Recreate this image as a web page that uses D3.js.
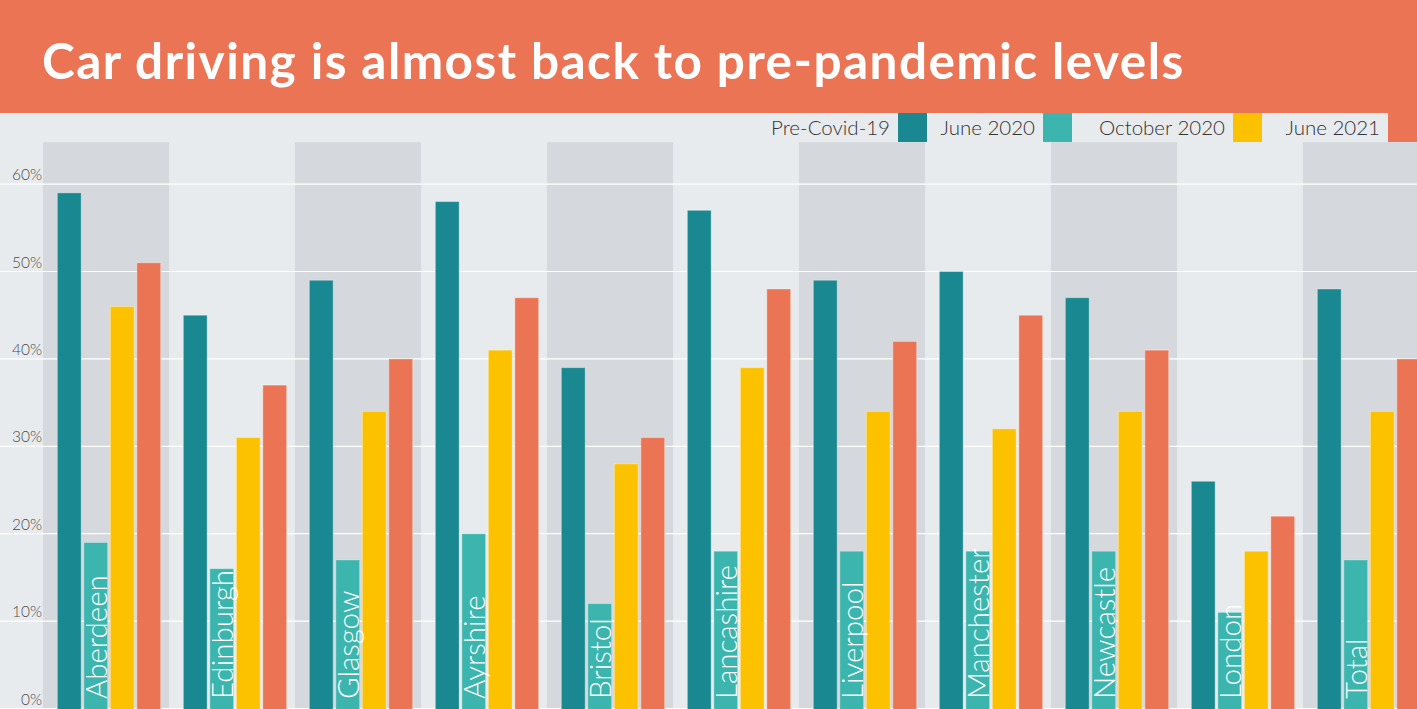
<!DOCTYPE html>
<html>
<head>
<meta charset="utf-8">
<script src="https://cdn.jsdelivr.net/npm/d3@7"></script>
<style>
  body { margin: 0; background: #e8ebee; }
  svg { display: block; font-family: "Lato", sans-serif; }
</style>
</head>
<body>
<svg id="chart" width="1417" height="709"></svg>
<script>
const title = "Car driving is almost back to pre-pandemic levels";

const regions = ["Aberdeen", "Edinburgh", "Glasgow", "Ayrshire", "Bristol",
  "Lancashire", "Liverpool", "Manchester", "Newcastle", "London", "Total"];

const seriesNames = ["Pre-Covid-19", "June 2020", "October 2020", "June 2021"];
const seriesColors = ["#1a8890", "#3bb5ad", "#fcc200", "#eb7455"];

const preCovid = [59, 45, 49, 58, 39, 57, 49, 50, 47, 26, 48];
const june2020 = [19, 16, 17, 20, 12, 18, 18, 18, 18, 11, 17];
const october2020 = [46, 31, 34, 41, 28, 39, 34, 32, 34, 18, 34];
const june2021 = [51, 37, 40, 47, 31, 48, 42, 45, 41, 22, 40];

const yTicks = [0, 10, 20, 30, 40, 50, 60];

const series = [preCovid, june2020, october2020, june2021];

const width = 1417, height = 709;
const svg = d3.select("#chart");

// background
svg.append("rect").attr("width", width).attr("height", height).attr("fill", "#e8ebee");

const x0 = d3.scaleBand().domain(regions).range([43, 43 + 126 * regions.length]).padding(0);
const x1 = d3.scaleBand().domain(d3.range(4)).range([13, 119]).paddingInner(0.1).paddingOuter(0.05);
const y = d3.scaleLinear().domain([0, 65]).range([708.5, 140.4]);

// alternating shaded bands
svg.append("g")
  .selectAll("rect")
  .data(regions.filter((d, i) => i % 2 === 0))
  .join("rect")
  .attr("x", d => x0(d))
  .attr("y", y(64.8))
  .attr("width", x0.bandwidth())
  .attr("height", y(0) - y(64.8) + 1)
  .attr("fill", "#d5d9dd");

// gridlines + tick labels
const grid = svg.append("g");
grid.selectAll("line")
  .data(yTicks)
  .join("line")
  .attr("x1", 0)
  .attr("x2", width)
  .attr("y1", d => y(d))
  .attr("y2", d => y(d))
  .attr("stroke", "#ffffff")
  .attr("stroke-width", 1.2);

grid.selectAll("text")
  .data(yTicks)
  .join("text")
  .attr("x", 42)
  .attr("y", d => y(d) - 4)
  .attr("text-anchor", "end")
  .attr("fill", "#4a4a4a")
  .attr("font-size", 15.5)
  .attr("font-weight", 300)
  .text(d => d + "%");

// bars
const groups = svg.append("g")
  .selectAll("g")
  .data(regions)
  .join("g")
  .attr("transform", d => `translate(${x0(d)},0)`);

groups.selectAll("rect")
  .data((d, i) => series.map((s, k) => ({ k, v: s[i] })))
  .join("rect")
  .attr("x", d => x1(d.k))
  .attr("y", d => y(d.v))
  .attr("width", x1.bandwidth())
  .attr("height", d => y(0) - y(d.v) + 2)
  .attr("fill", d => seriesColors[d.k])
  .attr("stroke", "rgba(255,255,255,0.35)")
  .attr("stroke-width", 1);

// region labels inside the June 2020 bar
groups.append("text")
  .attr("transform", d => `translate(${x1(1) + x1.bandwidth() - 1},699) rotate(-90)`)
  .attr("fill", "#ffffff")
  .attr("font-size", 29.5)
  .attr("font-weight", 300)
  .text(d => d);

// title bar
svg.append("rect").attr("x", 0).attr("y", 0).attr("width", width).attr("height", 113).attr("fill", "#eb7455");
svg.append("text")
  .attr("x", 42)
  .attr("y", 79)
  .attr("fill", "#ffffff")
  .attr("font-size", 49.5)
  .attr("font-weight", 700)
  .attr("letter-spacing", 1.45)
  .text(title);

// legend
const legendSwatchX = [898, 1043, 1233, 1388];
const legend = svg.append("g")
  .selectAll("g")
  .data(seriesNames)
  .join("g");

legend.append("rect")
  .attr("x", (d, i) => legendSwatchX[i])
  .attr("y", 113)
  .attr("width", 29)
  .attr("height", 29)
  .attr("fill", (d, i) => seriesColors[i]);

legend.append("text")
  .attr("x", (d, i) => legendSwatchX[i] - 8)
  .attr("y", 135)
  .attr("text-anchor", "end")
  .attr("fill", "#333")
  .attr("font-size", 20.5)
  .attr("font-weight", 300)
  .text(d => d);
</script>
</body>
</html>
